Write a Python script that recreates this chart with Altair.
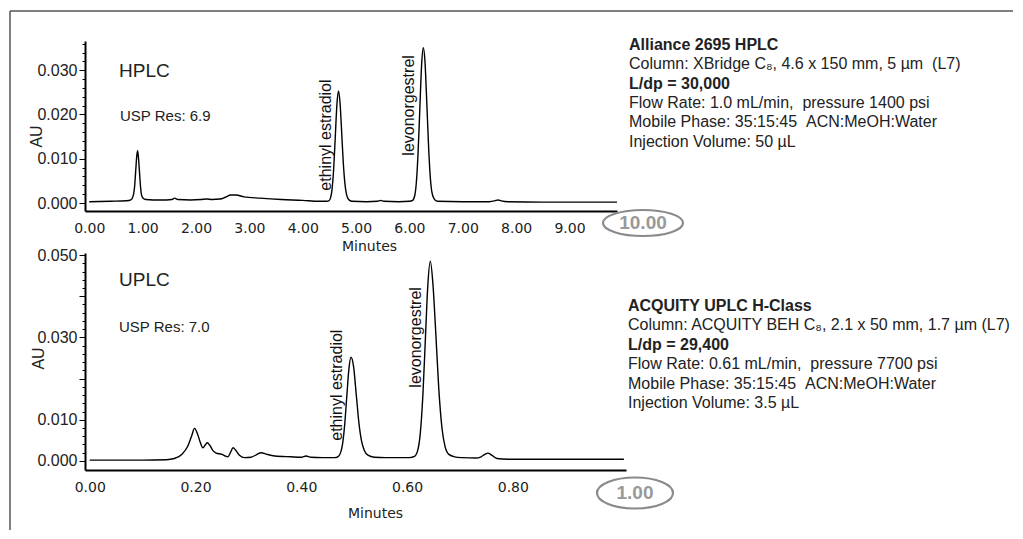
import altair as alt
import pandas as pd

# ---------------- data ----------------
hplc_t = [0.00, 0.40, 0.70, 0.78, 0.82, 0.85, 0.87, 0.89, 0.905, 0.92, 0.94, 0.96, 0.98, 1.01, 1.06,
          1.20, 1.45, 1.55, 1.60, 1.66, 1.90, 2.10, 2.20, 2.30, 2.45, 2.55, 2.65, 2.75, 2.90, 3.20,
          3.60, 4.00, 4.30, 4.45, 4.49, 4.52, 4.55, 4.58, 4.61, 4.64, 4.67, 4.70, 4.73, 4.76, 4.79,
          4.82, 4.86, 4.92, 5.20, 5.40, 5.46, 5.52, 5.80, 6.00, 6.06, 6.10, 6.13, 6.16, 6.195, 6.23,
          6.26, 6.29, 6.325, 6.36, 6.39, 6.42, 6.46, 6.52, 7.00, 7.50, 7.60, 7.66, 7.72, 7.85, 8.50, 9.89]
hplc_au = [0.0003, 0.0004, 0.0005, 0.0007, 0.0015, 0.0038, 0.0072, 0.0106, 0.0118, 0.0105, 0.0072, 0.0038, 0.0018, 0.0011, 0.0008,
           0.0007, 0.0007, 0.0008, 0.0011, 0.0008, 0.0007, 0.0008, 0.0009, 0.0008, 0.0009, 0.0013, 0.0018, 0.0018, 0.0014, 0.0011,
           0.0008, 0.0006, 0.0004, 0.0004, 0.0005, 0.0011, 0.0031, 0.0077, 0.0148, 0.0221, 0.0253, 0.0226, 0.0160, 0.0092, 0.0045,
           0.0020, 0.0008, 0.0004, 0.0003, 0.0004, 0.0006, 0.0004, 0.0003, 0.0004, 0.0006, 0.0017, 0.0047, 0.0108, 0.0213, 0.0316,
           0.0351, 0.0322, 0.0228, 0.0125, 0.0060, 0.0025, 0.0010, 0.0004, 0.0003, 0.0003, 0.0005, 0.0007, 0.0005, 0.0003, 0.0002, 0.0002]

uplc_t = [0.000, 0.100, 0.145, 0.160, 0.175, 0.185, 0.193, 0.198, 0.204, 0.209, 0.214, 0.219, 0.222, 0.227, 0.233,
          0.239, 0.250, 0.256, 0.261, 0.266, 0.271, 0.276, 0.283, 0.293, 0.305, 0.315, 0.324, 0.335, 0.350, 0.380,
          0.400, 0.409, 0.418, 0.440, 0.463, 0.469, 0.474, 0.478, 0.482, 0.486, 0.490, 0.494, 0.499, 0.504, 0.509,
          0.514, 0.519, 0.526, 0.538, 0.560, 0.605, 0.614, 0.620, 0.625, 0.630, 0.635, 0.639, 0.644, 0.649, 0.654,
          0.660, 0.666, 0.672, 0.679, 0.690, 0.705, 0.730, 0.740, 0.747, 0.753, 0.760, 0.770, 0.790, 0.900, 1.010]
uplc_au = [0.0002, 0.0002, 0.0003, 0.0006, 0.0017, 0.0035, 0.0062, 0.0079, 0.0065, 0.0045, 0.0032, 0.0040, 0.0044, 0.0038, 0.0025,
           0.0019, 0.0016, 0.0012, 0.0010, 0.0020, 0.0032, 0.0026, 0.0014, 0.0008, 0.0009, 0.0015, 0.0020, 0.0016, 0.0012, 0.0010,
           0.0009, 0.0012, 0.0009, 0.0008, 0.0008, 0.0010, 0.0019, 0.0041, 0.0087, 0.0156, 0.0223, 0.0252, 0.0228, 0.0160, 0.0092,
           0.0048, 0.0026, 0.0014, 0.0009, 0.0008, 0.0008, 0.0011, 0.0025, 0.0067, 0.0162, 0.0307, 0.0421, 0.0485, 0.0428, 0.0318,
           0.0175, 0.0080, 0.0034, 0.0016, 0.0010, 0.0008, 0.0007, 0.0010, 0.0016, 0.0019, 0.0014, 0.0006, 0.0004, 0.0004, 0.0004]

peak_names = ["ethinyl estradiol", "levonorgestrel"]
hplc_label_t = [4.43, 5.99]
hplc_label_au = [0.0028, 0.0107]
uplc_label_t = [0.4675, 0.617]
uplc_label_au = [0.0049, 0.0178]

hplc_xticks = [0, 1, 2, 3, 4, 5, 6, 7, 8, 9]
uplc_xticks = [0.0, 0.2, 0.4, 0.6, 0.8]
hplc_yticks = [round(i * 0.002, 3) for i in range(19)]
uplc_yticks = [round(i * 0.002, 3) for i in range(26)]

NB = "\u00a0"
hplc_info = ["Alliance 2695 HPLC",
             "Column: XBridge C\u2088, 4.6 x 150 mm, 5 \u00b5m " + NB + "(L7)",
             "L/dp = 30,000",
             "Flow Rate: 1.0 mL/min, " + NB + "pressure 1400 psi",
             "Mobile Phase: 35:15:45 " + NB + "ACN:MeOH:Water",
             "Injection Volume: 50 \u00b5L"]
uplc_info = ["ACQUITY UPLC H-Class",
             "Column: ACQUITY BEH C\u2088, 2.1 x 50 mm, 1.7 \u00b5m (L7)",
             "L/dp = 29,400",
             "Flow Rate: 0.61 mL/min, " + NB + "pressure 7700 psi",
             "Mobile Phase: 35:15:45 " + NB + "ACN:MeOH:Water",
             "Injection Volume: 3.5 \u00b5L"]
info_bold = [True, False, True, False, False, False]

SANS = "Liberation Sans"
VERD = "DejaVu Sans"
one = pd.DataFrame({"d": [0]})


def text_at(txt, x, y, size, bold=False, color="#222", align="left", font=SANS):
    return alt.Chart(one).mark_text(text=txt, font=font, fontSize=size, color=color,
                                    fontWeight="bold" if bold else "normal",
                                    align=align, baseline="middle").encode(
        x=alt.value(x), y=alt.value(y))


def ellipse_at(x, y, w, h):
    r = h / w
    path = f"M -1 0 A 1 {r:.3f} 0 1 1 1 0 A 1 {r:.3f} 0 1 1 -1 0 Z"
    return alt.Chart(one).mark_point(shape=path, size=w * w, filled=False,
                                     stroke="#8a8a8a", strokeWidth=2.2, opacity=1).encode(
        x=alt.value(x), y=alt.value(y))


def panel(t, au, xdom, ydom, xticks, xfmt, yticks, ylabel_test, ytitle_xy, xtitle_xy,
          label_t, label_au, w, h):
    df = pd.DataFrame({"t": t, "au": au})
    xaxis = alt.Axis(values=xticks, format=xfmt, title="Minutes", ticks=False, tickCount=100,
                     labelFont=VERD, labelFontSize=14, labelColor="#222", labelPadding=10,
                     labelOverlap=False, labelFlush=False,
                     domainColor="black", domainWidth=2,
                     titleFont=VERD, titleFontSize=14, titleFontWeight="normal", titleColor="#222",
                     titleX=xtitle_xy[0], titleY=xtitle_xy[1], titleBaseline="middle",
                     grid=False)
    yaxis = alt.Axis(values=yticks, tickCount=100, title="AU",
                     labelExpr=f"({ylabel_test}) ? format(datum.value, '.3f') : ''",
                     tickSize={"condition": {"test": "round(datum.value*1000) % 10 == 0", "value": 6}, "value": 3},
                     tickColor="black", tickWidth=1, labelFont=SANS, labelFontSize=16,
                     labelOverlap=False, labelFlush=False,
                     labelColor="#222", labelPadding=2, domainColor="black", domainWidth=2,
                     titleFont=SANS, titleFontSize=16, titleFontWeight="normal", titleColor="#222",
                     titleX=ytitle_xy[0], titleY=ytitle_xy[1], titleBaseline="middle",
                     titleAlign="center", grid=False)
    line = alt.Chart(df).mark_line(color="black", strokeWidth=1.4, interpolate="monotone").encode(
        x=alt.X("t:Q", scale=alt.Scale(domain=xdom, nice=False, zero=False), axis=xaxis),
        y=alt.Y("au:Q", scale=alt.Scale(domain=ydom, nice=False, zero=False), axis=yaxis),
    )
    ldf = pd.DataFrame({"t": label_t, "au": label_au, "name": peak_names})
    labels = alt.Chart(ldf).mark_text(angle=270, align="left", baseline="middle", font=SANS,
                                      fontSize=16, color="#111").encode(
        x="t:Q", y="au:Q", text="name:N")
    return alt.layer(line, labels).properties(width=w, height=h)


top = panel(hplc_t, hplc_au, [-0.08, 9.89], [-0.0018, 0.0366], hplc_xticks, ".2f", hplc_yticks,
            "round(datum.value*1000) % 10 == 0", (-49, 95), (284, 35),
            hplc_label_t, hplc_label_au, 532, 170)
bottom = panel(uplc_t, uplc_au, [-0.009, 1.014], [-0.0022, 0.0505], uplc_xticks, ".2f", uplc_yticks,
               "indexof([0, 10, 30, 50], round(datum.value*1000)) >= 0", (-47, 105), (290, 43),
               uplc_label_t, uplc_label_au, 541, 217)

top_extra = [
    text_at("HPLC", 34, 30, 19),
    text_at("USP Res: 6.9", 35, 75, 15),
    ellipse_at(558, 182, 80, 26),
    text_at("10.00", 558, 182, 19, bold=True, color="#999", align="center"),
    alt.Chart(one).mark_rule(color="#555", strokeWidth=1.5).encode(
        x=alt.value(-75), x2=alt.value(928), y=alt.value(-30)),
    alt.Chart(one).mark_rule(color="#555", strokeWidth=1.5).encode(
        x=alt.value(-75), y=alt.value(-30), y2=alt.value(489)),
]
for i, (s, b) in enumerate(zip(hplc_info, info_bold)):
    top_extra.append(text_at(s, 544, 3.7 + i * 19.4, 16, bold=b))

bottom_extra = [
    text_at("UPLC", 34, 27, 19),
    text_at("USP Res: 7.0", 34, 74, 15),
    ellipse_at(550, 240, 76, 31),
    text_at("1.00", 550, 240, 19, bold=True, color="#999", align="center"),
]
for i, (s, b) in enumerate(zip(uplc_info, info_bold)):
    bottom_extra.append(text_at(s, 543, 53 + i * 19.4, 16, bold=b))

top = alt.layer(top, *top_extra)
bottom = alt.layer(bottom, *bottom_extra)

chart = alt.vconcat(top, bottom, spacing=42, bounds="flush").properties(
    padding={"left": 1, "top": 2, "right": 0, "bottom": 0}
).configure_view(stroke=None, strokeWidth=0)

chart.save("out.html", embed_options={"renderer": "svg", "actions": False})
